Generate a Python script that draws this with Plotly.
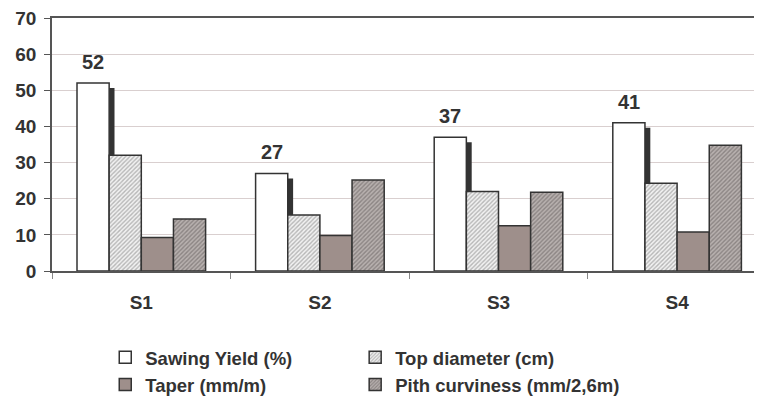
import plotly.graph_objects as go

categories = ["S1", "S2", "S3", "S4"]
sawing_yield = [52, 27, 37, 41]
top_diameter = [32, 15.5, 22, 24.3]
taper = [9.3, 9.8, 12.5, 10.8]
pith_curviness = [14.4, 25.2, 21.8, 34.8]

FONT = "Liberation Sans"
EDGE = "#333333"
W = 0.18
CAT_PX = 178.6  # pixels per category on the x axis

fig = go.Figure()

# dark shadow behind the sawing yield bars
fig.add_trace(go.Bar(x=categories, y=sawing_yield, base=-1.4, width=W,
                     offset=-2 * W + 0.03, marker=dict(color="#333333", line=dict(width=0)),
                     showlegend=False, hoverinfo="skip"))

fig.add_trace(go.Bar(x=categories, y=sawing_yield, width=W, offset=-2 * W,
                     name="Sawing Yield (%)", legend="legend",
                     marker=dict(color="white", line=dict(color=EDGE, width=1.5))))
fig.add_trace(go.Bar(x=categories, y=top_diameter, width=W, offset=-W,
                     name="Top diameter (cm)", legend="legend2",
                     marker=dict(color="white", line=dict(color=EDGE, width=1.5),
                                 pattern=dict(shape="/", fgcolor="#7a7a7a", bgcolor="#f2f2f2",
                                              size=3, solidity=0.45))))
fig.add_trace(go.Bar(x=categories, y=taper, width=W, offset=0,
                     name="Taper (mm/m)", legend="legend",
                     marker=dict(color="#9e8f8b", line=dict(color=EDGE, width=1.5))))
fig.add_trace(go.Bar(x=categories, y=pith_curviness, width=W, offset=W,
                     name="Pith curviness (mm/2,6m)", legend="legend2",
                     marker=dict(color="#a8a09e", line=dict(color=EDGE, width=1.5),
                                 pattern=dict(shape="/", fgcolor="#5e5858", bgcolor="#b8b1af",
                                              size=3, solidity=0.45))))

for c, v in zip(categories, sawing_yield):
    fig.add_annotation(x=c, y=v, text=str(v), showarrow=False, xshift=-1.5 * W * CAT_PX,
                       yanchor="bottom", yshift=8,
                       font=dict(family=FONT, size=20, color=EDGE, weight="bold"))

legend_font = dict(family=FONT, size=18.5, color=EDGE, weight="bold")
# the page body adds an 8px margin, so the figure is sized to fit inside it
fig.update_layout(
    width=754, height=391,
    margin=dict(l=44, r=0, t=10, b=128, autoexpand=False),
    plot_bgcolor="white", paper_bgcolor="white",
    barmode="overlay",
    legend=dict(x=0.075, y=-0.268, xanchor="left", yanchor="top", font=legend_font,
                tracegroupgap=0, itemwidth=30, bgcolor="rgba(0,0,0,0)"),
    legend2=dict(x=0.427, y=-0.268, xanchor="left", yanchor="top", font=legend_font,
                 tracegroupgap=0, itemwidth=30, bgcolor="rgba(0,0,0,0)"),
    xaxis=dict(range=[-0.5, -0.5 + 710 / CAT_PX], tickson="boundaries", ticks="outside",
               ticklen=6, tickcolor="#888888", showline=True, linecolor="#555555",
               linewidth=1.5, mirror=True, ticklabelstandoff=13,
               tickfont=dict(family=FONT, size=19, color=EDGE, weight="bold")),
    yaxis=dict(range=[0, 70], dtick=10, ticks="outside", ticklen=6, tickcolor="#555555",
               showline=True, linecolor="#555555", linewidth=1.5, ticklabelstandoff=4,
               ticklabeloverflow="allow",
               gridcolor="#d9cfcf", gridwidth=1, zeroline=False,
               tickfont=dict(family=FONT, size=19, color=EDGE, weight="bold")),
)

fig.write_html("out.html")
